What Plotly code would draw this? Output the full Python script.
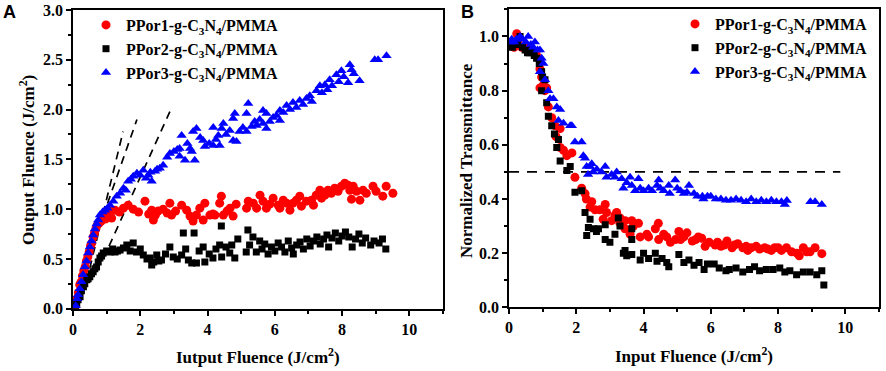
import plotly.graph_objects as go

# ---------------- Panel A data (input fluence, output fluence) ----------------
a_ppor1 = [(0.08,0.03),(0.12,0.10),(0.16,0.16),(0.20,0.24),(0.24,0.27),(0.28,0.33),(0.32,0.38),(0.36,0.42),
           (0.40,0.48),(0.44,0.52),(0.48,0.57),(0.52,0.63),(0.56,0.66),(0.60,0.72),(0.64,0.76),(0.68,0.80),
           (0.72,0.84),(0.78,0.86),(0.84,0.88),(0.90,0.92),(0.96,0.90),(1.02,0.95),(1.08,0.98),(1.15,0.91),
           (1.25,0.99),(1.38,0.97),(1.50,1.01),(1.64,1.04),(1.79,1.00),(1.95,0.97),(2.14,1.08),(2.25,0.95),
           (2.34,0.99),(2.39,0.89),(2.45,0.94),(2.53,0.98),(2.68,1.00),(2.80,0.96),(2.88,1.06),(2.93,0.94),
           (3.05,0.98),(3.23,1.04),(3.38,0.99),(3.48,0.93),(3.57,0.88),(3.67,0.94),(3.77,1.01),(3.87,0.89),
           (3.92,1.06),(4.07,0.94),(4.16,0.95),(4.22,0.94),(4.36,1.06),(4.41,1.13),(4.47,0.94),(4.58,0.98),
           (4.67,1.01),(4.76,0.93),(4.85,1.05),(5.16,1.01),(5.21,1.08),(5.36,1.06),(5.46,1.01),(5.56,1.14),
           (5.65,1.08),(5.75,1.01),(5.85,1.05),(5.95,1.11),(6.10,1.04),(6.15,1.01),(6.25,1.09),(6.35,1.06),
           (6.45,0.99),(6.54,1.06),(6.64,1.09),(6.74,1.13),(6.79,1.03),(6.94,1.08),(7.09,1.09),(7.15,1.04),
           (7.23,1.14),(7.34,1.19),(7.39,1.11),(7.49,1.14),(7.58,1.19),(7.68,1.16),(7.78,1.21),(7.88,1.18),
           (7.98,1.23),(8.08,1.26),(8.18,1.24),(8.23,1.19),(8.28,1.10),(8.33,1.23),(8.43,1.18),(8.53,1.09),
           (8.62,1.19),(8.72,1.16),(8.92,1.23),(9.01,1.18),(9.21,1.13),(9.31,1.23),(9.51,1.16)]

a_ppor2 = [(0.08,0.03),(0.11,0.05),(0.15,0.09),(0.21,0.12),(0.25,0.18),(0.31,0.22),(0.35,0.25),(0.41,0.29),
           (0.45,0.30),(0.50,0.32),(0.55,0.35),(0.60,0.37),(0.65,0.40),(0.70,0.42),(0.75,0.47),(0.80,0.51),
           (0.85,0.53),(0.90,0.56),(1.00,0.58),(1.10,0.57),(1.18,0.60),(1.25,0.57),(1.32,0.58),(1.40,0.59),
           (1.50,0.61),(1.60,0.64),(1.70,0.58),(1.79,0.66),(1.89,0.57),(2.00,0.60),(2.09,0.54),(2.20,0.50),
           (2.29,0.51),(2.34,0.44),(2.40,0.47),(2.49,0.54),(2.55,0.48),(2.63,0.49),(2.75,0.55),(2.88,0.62),
           (2.98,0.52),(3.10,0.50),(3.23,0.54),(3.28,0.76),(3.35,0.60),(3.43,0.49),(3.53,0.46),(3.60,0.76),
           (3.67,0.46),(3.75,0.58),(3.87,0.62),(3.92,0.47),(4.05,0.55),(4.16,0.51),(4.25,0.60),(4.36,0.64),
           (4.41,0.83),(4.42,0.52),(4.55,0.62),(4.66,0.56),(4.72,0.64),(4.81,0.51),(4.90,0.70),(5.15,0.57),
           (5.20,0.79),(5.25,0.64),(5.35,0.72),(5.45,0.57),(5.55,0.68),(5.62,0.60),(5.70,0.65),(5.80,0.55),
           (5.90,0.62),(6.00,0.58),(6.10,0.66),(6.20,0.62),(6.30,0.57),(6.40,0.68),(6.50,0.61),(6.55,0.55),
           (6.65,0.64),(6.75,0.67),(6.85,0.60),(6.95,0.70),(7.05,0.63),(7.15,0.68),(7.25,0.72),(7.35,0.65),
           (7.45,0.70),(7.55,0.74),(7.60,0.62),(7.70,0.71),(7.80,0.76),(7.90,0.68),(8.00,0.73),(8.10,0.77),
           (8.20,0.72),(8.30,0.62),(8.40,0.70),(8.50,0.75),(8.60,0.66),(8.70,0.71),(8.85,0.64),(8.95,0.68),
           (9.10,0.66),(9.20,0.70),(9.30,0.60)]

a_ppor3 = [(0.08,0.03),(0.12,0.10),(0.15,0.14),(0.20,0.20),(0.25,0.27),(0.30,0.34),(0.35,0.42),(0.40,0.48),
           (0.45,0.56),(0.50,0.62),(0.55,0.68),(0.60,0.74),(0.65,0.80),(0.70,0.85),(0.75,0.89),(0.80,0.94),
           (0.88,0.97),(0.95,0.99),(1.02,1.01),(1.10,1.04),(1.20,1.08),(1.30,1.13),(1.40,1.16),(1.50,1.21),
           (1.57,1.19),(1.64,1.28),(1.72,1.30),(1.79,1.33),(1.90,1.36),(2.00,1.34),(2.09,1.39),(2.17,1.31),
           (2.24,1.34),(2.30,1.37),(2.34,1.28),(2.44,1.38),(2.50,1.40),(2.58,1.41),(2.68,1.44),(2.80,1.52),
           (2.88,1.56),(3.00,1.58),(3.10,1.60),(3.17,1.53),(3.17,1.61),(3.23,1.74),(3.33,1.49),(3.40,1.66),
           (3.48,1.61),(3.53,1.58),(3.57,1.78),(3.62,1.49),(3.67,1.81),(3.78,1.72),(3.87,1.69),(3.92,1.63),
           (4.05,1.66),(4.17,1.64),(4.17,1.82),(4.25,1.70),(4.32,1.74),(4.36,1.64),(4.42,1.81),(4.47,1.86),
           (4.55,1.75),(4.66,1.79),(4.76,1.69),(4.76,1.91),(4.81,1.96),(4.86,1.68),(4.95,1.78),(5.05,1.82),
           (5.16,1.78),(5.16,1.96),(5.21,2.06),(5.31,1.83),(5.40,1.88),(5.46,1.84),(5.55,1.90),(5.65,1.86),
           (5.65,1.99),(5.75,1.81),(5.75,1.96),(5.85,1.88),(5.95,1.92),(6.05,1.94),(6.15,1.89),(6.15,1.99),
           (6.25,1.97),(6.35,2.04),(6.45,2.00),(6.54,2.07),(6.64,2.02),(6.74,2.09),(6.84,2.05),(6.94,2.11),
           (7.04,2.14),(7.10,2.08),(7.24,2.19),(7.34,2.24),(7.40,2.17),(7.49,2.25),(7.56,2.20),(7.63,2.30),
           (7.70,2.24),(7.83,2.35),(7.90,2.28),(7.98,2.39),(8.05,2.33),(8.18,2.27),(8.23,2.45),(8.28,2.40),
           (8.35,2.36),(8.52,2.29),(8.97,2.50),(9.07,2.50),(9.32,2.54)]

# dashed guide lines in panel A (start, end)
a_guide_1 = [(0.20,0.26),(1.90,1.90)]
a_guide_2 = [(0.40,0.27),(1.49,1.78)]
a_guide_3 = [(0.90,0.50),(2.88,1.98)]

# ---------------- Panel B data (input fluence, normalized transmittance) ----------------
b_ppor1 = [(0.05,0.97),(0.10,0.97),(0.15,0.96),(0.23,1.01),(0.30,0.97),(0.38,0.96),(0.45,0.96),(0.52,0.96),
           (0.60,0.95),(0.68,0.95),(0.75,0.94),(0.82,0.93),(0.87,0.92),(0.92,0.88),(0.92,0.81),(0.97,0.85),
           (1.02,0.82),(1.07,0.80),(1.12,0.81),(1.17,0.74),(1.27,0.70),(1.37,0.67),(1.40,0.63),(1.52,0.66),
           (1.52,0.59),(1.62,0.58),(1.72,0.56),(1.87,0.57),(1.96,0.48),(2.16,0.44),(2.26,0.42),(2.30,0.40),
           (2.41,0.37),(2.46,0.39),(2.56,0.36),(2.70,0.36),(2.80,0.325),(2.86,0.38),(2.90,0.35),(3.05,0.32),
           (3.15,0.34),(3.20,0.35),(3.30,0.33),(3.30,0.31),(3.45,0.29),(3.45,0.32),(3.60,0.27),(3.65,0.32),
           (3.70,0.30),(3.85,0.31),(3.90,0.26),(4.10,0.27),(4.15,0.26),(4.35,0.29),(4.44,0.31),(4.45,0.25),
           (4.60,0.27),(4.69,0.26),(4.80,0.24),(4.95,0.25),(5.05,0.28),(5.10,0.25),(5.20,0.26),(5.29,0.275),
           (5.45,0.245),(5.55,0.25),(5.63,0.26),(5.73,0.255),(5.83,0.225),(5.95,0.24),(6.13,0.23),(6.20,0.24),
           (6.30,0.225),(6.40,0.23),(6.48,0.245),(6.63,0.22),(6.70,0.23),(6.80,0.235),(6.95,0.22),(7.05,0.225),
           (7.10,0.21),(7.20,0.22),(7.35,0.225),(7.45,0.215),(7.60,0.22),(7.70,0.215),(7.80,0.21),(7.90,0.22),
           (8.00,0.22),(8.10,0.21),(8.25,0.22),(8.40,0.205),(8.56,0.20),(8.63,0.19),(8.75,0.22),(8.85,0.205),
           (8.95,0.205),(9.10,0.22),(9.30,0.198)]

b_ppor2 = [(0.05,0.97),(0.10,0.96),(0.18,0.97),(0.25,0.97),(0.33,1.00),(0.40,0.96),(0.48,0.95),(0.55,0.94),
           (0.62,0.94),(0.68,0.95),(0.75,0.93),(0.82,0.92),(0.90,0.90),(0.97,0.87),(1.00,0.85),(1.07,0.84),
           (0.97,0.80),(1.12,0.755),(1.17,0.705),(1.27,0.67),(1.35,0.64),(1.47,0.62),(1.42,0.59),(1.52,0.54),
           (1.72,0.505),(1.82,0.52),(1.96,0.425),(2.16,0.43),(2.26,0.35),(2.36,0.295),(2.41,0.325),(2.31,0.265),
           (2.51,0.29),(2.60,0.28),(2.66,0.29),(2.86,0.305),(2.86,0.25),(3.00,0.24),(3.15,0.27),(3.25,0.33),
           (3.30,0.30),(3.40,0.20),(3.45,0.21),(3.50,0.19),(3.65,0.25),(3.65,0.195),(3.65,0.29),(3.90,0.175),
           (4.00,0.20),(4.15,0.18),(4.35,0.20),(4.40,0.17),(4.55,0.18),(4.69,0.165),(4.75,0.15),(5.05,0.195),
           (5.20,0.165),(5.35,0.175),(5.50,0.155),(5.65,0.165),(5.80,0.14),(5.90,0.16),(6.10,0.16),(6.25,0.145),
           (6.45,0.135),(6.55,0.14),(6.75,0.145),(6.95,0.13),(7.15,0.14),(7.30,0.15),(7.45,0.135),(7.65,0.14),
           (7.85,0.14),(8.05,0.145),(8.20,0.13),(8.35,0.135),(8.55,0.12),(8.75,0.13),(8.95,0.13),(9.15,0.12),
           (9.30,0.135),(9.36,0.082)]

b_ppor3 = [(0.05,0.98),(0.08,0.99),(0.15,0.98),(0.22,0.99),(0.33,1.00),(0.40,0.99),(0.50,0.98),(0.57,1.00),
           (0.65,0.97),(0.72,0.96),(0.77,0.98),(0.85,0.95),(0.92,0.95),(0.92,0.87),(0.97,0.92),(1.02,0.90),
           (1.07,0.84),(1.17,0.80),(1.22,0.77),(1.32,0.77),(1.42,0.74),(1.52,0.73),(1.47,0.69),(1.62,0.68),
           (1.82,0.67),(1.87,0.67),(1.96,0.61),(2.16,0.61),(2.21,0.56),(2.26,0.55),(2.31,0.52),(2.35,0.49),
           (2.41,0.52),(2.46,0.53),(2.50,0.50),(2.61,0.51),(2.75,0.50),(2.86,0.52),(2.90,0.48),(3.05,0.49),
           (3.15,0.48),(3.20,0.50),(3.35,0.475),(3.40,0.44),(3.50,0.46),(3.60,0.48),(3.65,0.45),(3.75,0.43),
           (3.85,0.475),(3.90,0.44),(4.00,0.43),(4.15,0.44),(4.25,0.43),(4.40,0.45),(4.45,0.47),(4.50,0.44),
           (4.60,0.43),(4.75,0.45),(4.78,0.42),(4.94,0.47),(5.00,0.44),(5.10,0.43),(5.20,0.42),(5.29,0.425),
           (5.35,0.45),(5.50,0.42),(5.60,0.41),(5.75,0.41),(5.78,0.40),(5.90,0.41),(6.00,0.41),(6.15,0.40),
           (6.30,0.40),(6.45,0.395),(6.60,0.395),(6.75,0.40),(6.90,0.395),(7.05,0.39),(7.20,0.40),(7.35,0.39),
           (7.50,0.395),(7.65,0.39),(7.80,0.395),(7.95,0.39),(8.10,0.39),(8.20,0.38),(8.26,0.394),(8.96,0.39),
           (9.10,0.39),(9.30,0.38)]

b_threshold = [(0.0,0.5),(9.85,0.5)]

series_names = ["PPor1-g-C<sub>3</sub>N<sub>4</sub>/PMMA",
                "PPor2-g-C<sub>3</sub>N<sub>4</sub>/PMMA",
                "PPor3-g-C<sub>3</sub>N<sub>4</sub>/PMMA"]

RED, BLACK, BLUE = "#ff0000", "#000000", "#0000ff"
SERIF = "Liberation Serif"

def xs(pts):
    return [p[0] for p in pts]

def ys(pts):
    return [p[1] for p in pts]

fig = go.Figure()

# guide lines (drawn first, under markers)
for g in (a_guide_1, a_guide_2, a_guide_3):
    fig.add_trace(go.Scatter(x=xs(g), y=ys(g), mode="lines", showlegend=False, hoverinfo="skip",
                             line=dict(color="black", width=1.7, dash="8px,6px"), xaxis="x", yaxis="y"))
fig.add_trace(go.Scatter(x=xs(b_threshold), y=ys(b_threshold), mode="lines", showlegend=False,
                         hoverinfo="skip", line=dict(color="black", width=1.8, dash="10px,8px"),
                         xaxis="x2", yaxis="y2"))

styles = [(RED, "circle", 9), (BLACK, "square", 7), (BLUE, "triangle-up", 9)]

for data, name, (col, sym, sz) in zip((a_ppor1, a_ppor2, a_ppor3), series_names, styles):
    fig.add_trace(go.Scatter(x=xs(data), y=ys(data), mode="markers", name=name,
                             marker=dict(color=col, symbol=sym, size=sz, line=dict(width=0)),
                             xaxis="x", yaxis="y", legend="legend"))

for data, name, (col, sym, sz) in zip((b_ppor1, b_ppor2, b_ppor3), series_names, styles):
    fig.add_trace(go.Scatter(x=xs(data), y=ys(data), mode="markers", name=name,
                             marker=dict(color=col, symbol=sym, size=sz, line=dict(width=0)),
                             xaxis="x2", yaxis="y2", legend="legend2"))

W, H = 886, 371
tickfont = dict(family=SERIF, size=16, color="black", weight="bold")

def xaxis_style(x0, x1, anchor):
    return dict(domain=[x0 / W, x1 / W], range=[0, 11], dtick=2, tick0=0, anchor=anchor,
                ticks="outside", ticklen=5, tickwidth=1.5, tickcolor="black", automargin=False,
                minor=dict(dtick=1, ticks="outside", ticklen=3, tickwidth=1.5, tickcolor="black"),
                showline=True, linewidth=1.8, linecolor="black", mirror=True,
                showgrid=False, zeroline=False, tickfont=tickfont, fixedrange=True)

def yaxis_style(ytop, ybot, rng, dt, anchor, fmt):
    return dict(domain=[1 - ybot / H, 1 - ytop / H], range=rng, dtick=dt, tick0=0, anchor=anchor,
                ticks="outside", ticklen=5, tickwidth=1.5, tickcolor="black", automargin=False,
                minor=dict(dtick=dt / 2, ticks="outside", ticklen=3, tickwidth=1.5, tickcolor="black"),
                showline=True, linewidth=1.8, linecolor="black", mirror=True,
                showgrid=False, zeroline=False, tickfont=tickfont, tickformat=fmt, fixedrange=True)

legend_font = dict(family=SERIF, size=16, color="black", weight="bold")

def label(text, px, py, size, family=SERIF, angle=0):
    return dict(text=text, x=px / W, y=1 - py / H, xref="paper", yref="paper", showarrow=False,
                xanchor="center", yanchor="middle", textangle=angle,
                font=dict(family=family, size=size, color="black"))

fig.update_layout(
    template="none",
    width=W, height=H,
    margin=dict(l=0, r=0, t=0, b=0, autoexpand=False),
    paper_bgcolor="white", plot_bgcolor="white",
    xaxis=xaxis_style(73, 443, "y"),
    yaxis=yaxis_style(10, 308.7, [0, 3], 0.5, "x", ".1f"),
    xaxis2=xaxis_style(509, 879, "y2"),
    yaxis2=yaxis_style(9.4, 307.3, [0, 1.1], 0.2, "x2", ".1f"),
    legend=dict(x=86 / W, y=1 - 8 / H, xanchor="left", yanchor="top", bgcolor="rgba(0,0,0,0)",
                font=legend_font, itemsizing="trace", tracegroupgap=0),
    legend2=dict(x=675 / W, y=1 - 7 / H, xanchor="left", yanchor="top", bgcolor="rgba(0,0,0,0)",
                 font=legend_font, itemsizing="trace", tracegroupgap=0),
    annotations=[
        label("<b>A</b>", 9, 12.5, 18, family="Liberation Sans"),
        label("<b>B</b>", 467, 12, 18, family="Liberation Sans"),
        label("<b>Iutput Fluence (J/cm<sup>2</sup>)</b>", 258, 356, 17),
        label("<b>Input Fluence (J/cm<sup>2</sup>)</b>", 694, 355, 17),
        label("<b>Output Fluence (J/cm<sup>2</sup>)</b>", 27, 160, 17, angle=-90),
        label("<b>Normalized Transmittance</b>", 466, 160, 17, angle=-90),
    ],
)

fig.write_html("out.html", config={"displayModeBar": False},
               post_script="document.body.style.margin='0';document.body.style.overflow='hidden';")
